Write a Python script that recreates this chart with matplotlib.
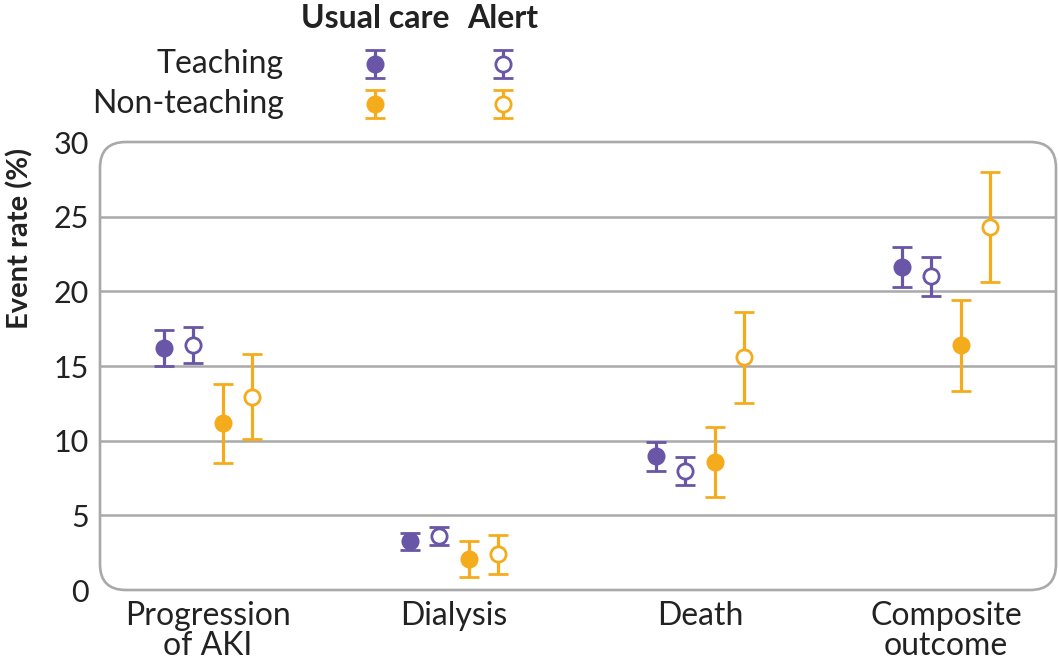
import numpy as np
import matplotlib
matplotlib.use('Agg')
import matplotlib.pyplot as plt
from matplotlib.patches import FancyBboxPatch

plt.rcParams['font.family'] = ['Lato', 'DejaVu Sans']

categories = ['Progression\nof AKI', 'Dialysis', 'Death', 'Composite\noutcome']
series = ['Teaching usual care', 'Teaching alert', 'Non-teaching usual care', 'Non-teaching alert']

# point estimates and 95% CI, per series, per category
teach_usual = [16.2, 3.3, 9.0, 21.6]
teach_usual_lo = [15.0, 2.7, 8.0, 20.3]
teach_usual_hi = [17.4, 3.8, 9.9, 23.0]

teach_alert = [16.4, 3.6, 8.0, 21.0]
teach_alert_lo = [15.2, 3.0, 7.0, 19.7]
teach_alert_hi = [17.6, 4.2, 8.9, 22.3]

nonteach_usual = [11.2, 2.1, 8.6, 16.4]
nonteach_usual_lo = [8.5, 0.9, 6.2, 13.3]
nonteach_usual_hi = [13.8, 3.3, 10.9, 19.4]

nonteach_alert = [12.9, 2.4, 15.6, 24.3]
nonteach_alert_lo = [10.1, 1.1, 12.5, 20.6]
nonteach_alert_hi = [15.8, 3.7, 18.6, 28.0]

yticks = [0, 5, 10, 15, 20, 25, 30]
grid_vals = [5, 10, 15, 20, 25]

purple = '#6a56a6'
orange = '#f5ac1c'
grey = '#a9a9a9'
ink = '#222222'

fig = plt.figure(figsize=(10.58, 6.67), dpi=100)
ax = fig.add_axes([100 / 1058, 77 / 667, 956 / 1058, 448 / 667])

groups = [
    (teach_usual, teach_usual_lo, teach_usual_hi, purple, True, -0.18),
    (teach_alert, teach_alert_lo, teach_alert_hi, purple, False, -0.06),
    (nonteach_usual, nonteach_usual_lo, nonteach_usual_hi, orange, True, 0.06),
    (nonteach_alert, nonteach_alert_lo, nonteach_alert_hi, orange, False, 0.18),
]

x = np.arange(len(categories))
for vals, lo, hi, col, filled, off in groups:
    vals = np.array(vals)
    err = [vals - np.array(lo), np.array(hi) - vals]
    ax.errorbar(x + off, vals, yerr=err, fmt='o', color=col, ecolor=col,
                elinewidth=2.3, capsize=7.5, capthick=2.3, markersize=11,
                markerfacecolor=col if filled else 'white',
                markeredgecolor=col, markeredgewidth=2.0, zorder=3)

for g in grid_vals:
    ax.axhline(g, color=grey, lw=1.8, zorder=1)

ax.set_xlim(-0.439, 3.447)
ax.set_ylim(0, 30)
for s in ax.spines.values():
    s.set_visible(False)

aspect = (956 / 448)
box = FancyBboxPatch((0, 0), 1, 1, boxstyle='round,pad=0,rounding_size=0.027',
                     mutation_aspect=aspect, transform=ax.transAxes,
                     facecolor='none', edgecolor=grey, lw=1.9, clip_on=False, zorder=2)
ax.add_patch(box)

ax.set_yticks(yticks)
ax.set_yticklabels([str(t) for t in yticks], fontsize=22, color=ink)
ax.set_xticks(x)
ax.set_xticklabels(categories, fontsize=23, color=ink, linespacing=1.0)
ax.tick_params(axis='both', length=0)
ax.tick_params(axis='y', pad=8)
ax.tick_params(axis='x', pad=8)

fig.text(20 / 1058, 1 - 238 / 667, 'Event rate (%)', rotation=90, fontsize=21,
         fontweight='bold', ha='center', va='center', color=ink)

# legend block drawn in pixel coordinates
lg = fig.add_axes([0, 0, 1, 1])
lg.set_xlim(0, 1058)
lg.set_ylim(667, 0)
lg.axis('off')
lg.patch.set_alpha(0)
lg.text(375, 19, 'Usual care', fontsize=23, fontweight='bold', ha='center', va='center', color=ink)
lg.text(503, 19, 'Alert', fontsize=23, fontweight='bold', ha='center', va='center', color=ink)
lg.text(284, 64, 'Teaching', fontsize=23, ha='right', va='center', color=ink)
lg.text(284, 104, 'Non-teaching', fontsize=23, ha='right', va='center', color=ink)
for row_y, col in [(64, purple), (104, orange)]:
    for col_x, filled in [(375, True), (503, False)]:
        lg.errorbar([col_x], [row_y], yerr=14, fmt='o', color=col, ecolor=col,
                    elinewidth=2.3, capsize=7.5, capthick=2.3, markersize=11,
                    markerfacecolor=col if filled else 'white',
                    markeredgecolor=col, markeredgewidth=2.0)

fig.savefig('out.png', dpi=100)
